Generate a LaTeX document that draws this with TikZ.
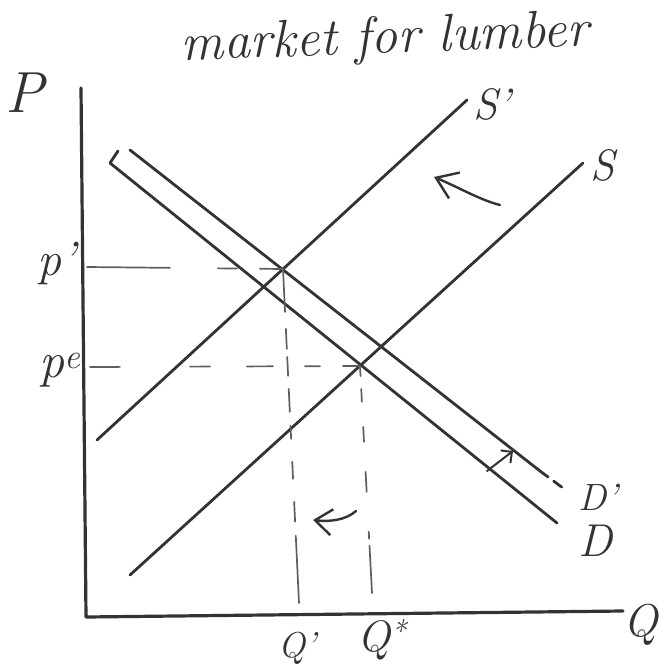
\documentclass[tikz,border=0pt]{standalone}
\usepackage{fontspec}
\usetikzlibrary{arrows.meta}
\definecolor{ink}{HTML}{333333}
\definecolor{inkl}{HTML}{5E5E5E}
\begin{document}
\begin{tikzpicture}[x=1pt,y=-1pt, line cap=round, line join=round,
  curve/.style={draw=ink, line width=2.8pt},
  axisline/.style={draw=ink, line width=3.2pt},
  guide/.style={draw=inkl, line width=1.7pt},
  lbl/.style={text=ink, inner sep=0pt, font=\itshape},
  shiftarrow/.style={draw=ink, line width=2.4pt}]
\useasboundingbox (0,0) rectangle (660,667);
\fill[white] (0,0) rectangle (660,667);

% axes
\coordinate (ytop) at (81,88);
\coordinate (origin) at (86,617);
\coordinate (xend) at (623,611);
\draw[axisline] (ytop) -- (origin) -- (xend);

% curves
\coordinate (Sp1) at (97,440);  \coordinate (Sp2) at (467,100);
\coordinate (S1) at (130,575);  \coordinate (S2) at (583,163);
\coordinate (Dhk) at (118,151); \coordinate (D1) at (110,163); \coordinate (D2) at (557,523);
\coordinate (Dp1) at (130,150); \coordinate (Dp2) at (540,471); \coordinate (Dp3) at (567,491);
\draw[curve] (Sp1) -- (Sp2);
\draw[curve] (S1) -- (S2);
\draw[curve] (Dhk) -- (D1) -- (D2);
\draw[curve] (Dp1) -- (Dp2);
\draw[curve, dash pattern=on 10pt off 7pt] (Dp2) -- (Dp3);

% equilibria and guide lines
\coordinate (E1) at (283,269);
\coordinate (E0) at (360,366);
\coordinate (ppax) at (87,267);
\coordinate (peax) at (90,367);
\coordinate (Qpax) at (299,603);
\coordinate (Qsax) at (372,593);
\draw[guide, dash pattern=on 83pt off 48pt on 19pt off 23pt on 30pt] (ppax) -- (E1);
\draw[guide, dash pattern=on 30pt off 70pt on 20pt off 37pt on 26pt off 32pt on 15pt off 23pt on 30pt] (peax) -- (E0);
\draw[guide, dash pattern=on 43pt off 17pt on 20pt off 8pt on 19pt off 13pt on 23pt off 14pt on 13pt off 23pt on 17pt off 23pt on 20pt off 14pt on 80pt] (E1) -- (Qpax);
\draw[guide, dash pattern=on 10pt off 13pt on 13pt off 25pt on 15pt off 30pt on 20pt off 40pt on 7pt off 7pt on 60pt] (E0) -- (Qsax);

% shift arrows
\coordinate (a1t) at (500,205); \coordinate (a1h) at (434,177);
\draw[shiftarrow, -{Straight Barb[length=20pt,width=28pt]}] (a1t) .. controls (480,200) and (458,187) .. (a1h);
\coordinate (a2t) at (356,511); \coordinate (a2h) at (313,520);
\draw[shiftarrow, -{Straight Barb[length=17pt,width=26pt]}] (a2t) .. controls (346,520) and (330,522) .. (a2h);
\coordinate (a3t) at (487,471); \coordinate (a3h) at (513,451);
\draw[shiftarrow, line width=2pt, -{Straight Barb[length=8pt,width=16pt]}] (a3t) -- (a3h);

% labels
\node[lbl, font=\fontsize{53}{60}\selectfont\itshape, rotate=2] (title) at (385,40) {market for lumber};
\node[lbl, font=\fontsize{58}{64}\selectfont\itshape] (P) at (25,93) {P};
\node[lbl, font=\fontsize{48}{56}\selectfont\itshape] (pplbl) at (57,263) {p’};
\node[lbl, font=\fontsize{50}{56}\selectfont\itshape] (pelbl) at (60,370) {p\textsuperscript{e}};
\node[lbl, font=\fontsize{44}{50}\selectfont\itshape] (Splbl) at (492,104) {S’};
\node[lbl, font=\fontsize{44}{50}\selectfont\itshape] (Slbl) at (603,165) {S};
\node[lbl, font=\fontsize{38}{44}\selectfont\itshape] (Dplbl) at (598,497) {D’};
\node[lbl, font=\fontsize{46}{52}\selectfont\itshape] (Dlbl) at (595,541) {D};
\node[lbl, font=\fontsize{46}{52}\selectfont\itshape] (Qlbl) at (641,625) {Q};
\node[lbl, font=\fontsize{36}{42}\selectfont\itshape] (Qplbl) at (297,648) {Q’};
\node[lbl, font=\fontsize{44}{50}\selectfont\itshape] (Qslbl) at (382,640) {Q\textsuperscript{*}};
\end{tikzpicture}
\end{document}
